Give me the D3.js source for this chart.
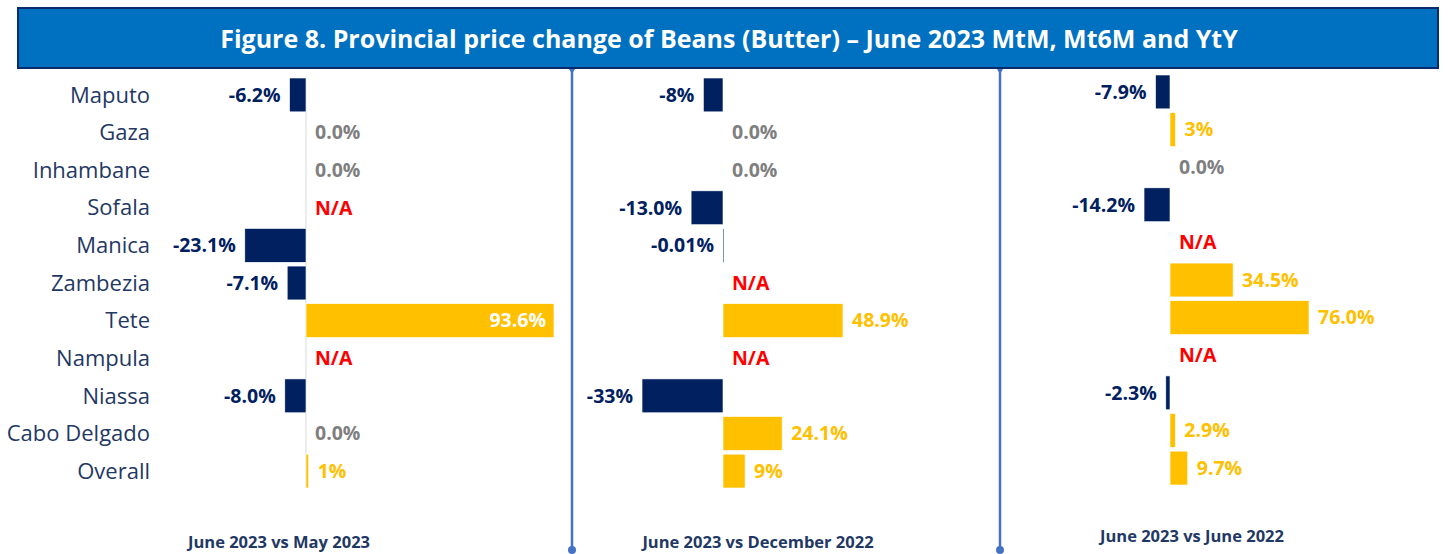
<!DOCTYPE html>
<html>
<head>
<meta charset="utf-8">
<script src="https://cdn.jsdelivr.net/npm/d3@7"></script>
<style>
  body { margin: 0; background: #fff; }
  svg { display: block; font-family: "Open Sans", sans-serif; }
</style>
</head>
<body>
<svg id="chart" width="1448" height="554"></svg>
<script>
// data
const provinces = ["Maputo", "Gaza", "Inhambane", "Sofala", "Manica", "Zambezia", "Tete", "Nampula", "Niassa", "Cabo Delgado", "Overall"];

const mtmValues = [-6.2, 0, 0, null, -23.1, -7.1, 93.6, null, -8.0, 0, 1];
const mtmLabels = ["-6.2%", "0.0%", "0.0%", "N/A", "-23.1%", "-7.1%", "93.6%", "N/A", "-8.0%", "0.0%", "1%"];

const mt6mValues = [-8, 0, 0, -13.0, -0.01, null, 48.9, null, -33, 24.1, 9];
const mt6mLabels = ["-8%", "0.0%", "0.0%", "-13.0%", "-0.01%", "N/A", "48.9%", "N/A", "-33%", "24.1%", "9%"];

const ytyValues = [-7.9, 3, 0, -14.2, null, 34.5, 76.0, null, -2.3, 2.9, 9.7];
const ytyLabels = ["-7.9%", "3%", "0.0%", "-14.2%", "N/A", "34.5%", "76.0%", "N/A", "-2.3%", "2.9%", "9.7%"];

const panelTitles = ["June 2023 vs May 2023", "June 2023 vs December 2022", "June 2023 vs June 2022"];

const titleText = "Figure 8. Provincial price change of Beans (Butter) \u2013 June 2023 MtM, Mt6M and YtY";

const NAVY = "#002060", GOLD = "#FFC000", GREY = "#7F7F7F", RED = "#FF0000";

const svg = d3.select("#chart");

// title box
svg.append("rect")
  .attr("x", 18).attr("y", 8)
  .attr("width", 1420).attr("height", 60)
  .attr("fill", "#0070C0")
  .attr("stroke", "#0B2A6B")
  .attr("stroke-width", 2);

svg.append("text")
  .attr("x", 729).attr("y", 39)
  .attr("dy", "0.35em")
  .attr("text-anchor", "middle")
  .attr("fill", "#fff")
  .attr("font-weight", 700)
  .attr("font-size", "25px")
  .text(titleText);

// separators
[572, 1000].forEach(sx => {
  svg.append("line")
    .attr("x1", sx).attr("x2", sx)
    .attr("y1", 69).attr("y2", 550)
    .attr("stroke", "#4472C4")
    .attr("stroke-width", 2.5);
  svg.append("path")
    .attr("d", `M${sx - 3},69 L${sx + 3},69 L${sx},74 Z`)
    .attr("fill", "#4472C4");
  svg.append("circle")
    .attr("cx", sx).attr("cy", 550).attr("r", 4)
    .attr("fill", "#4472C4");
});

// category labels
const yCat = d3.scaleBand().domain(provinces).range([78, 488]).paddingInner(0.1);

svg.append("g").selectAll("text")
  .data(provinces)
  .enter().append("text")
  .attr("x", 150)
  .attr("y", d => yCat(d) + yCat.bandwidth() / 2)
  .attr("dy", "0.35em")
  .attr("text-anchor", "end")
  .attr("font-size", "22px")
  .attr("fill", "#1F3864")
  .text(d => d);

// panels
const panels = [
  { values: mtmValues, labels: mtmLabels, domain: [0, 93.6], range: [306, 554], yRange: [78, 488], axis: true, title: panelTitles[0], tx: 279, ty: 548, inside: 93.6 },
  { values: mt6mValues, labels: mt6mLabels, domain: [0, 48.9], range: [723, 843], yRange: [78, 488], axis: false, title: panelTitles[1], tx: 758, ty: 548 },
  { values: ytyValues, labels: ytyLabels, domain: [0, 76], range: [1170, 1309], yRange: [75, 485], axis: false, title: panelTitles[2], tx: 1192, ty: 542 }
];

panels.forEach(p => {
  const x = d3.scaleLinear().domain(p.domain).range(p.range);
  const y = d3.scaleBand().domain(provinces).range(p.yRange).paddingInner(0.1);
  const rows = provinces.map((name, i) => ({ name, value: p.values[i], label: p.labels[i] }));
  const g = svg.append("g");

  if (p.axis) {
    g.append("line")
      .attr("x1", x(0)).attr("x2", x(0))
      .attr("y1", p.yRange[0]).attr("y2", p.yRange[1])
      .attr("stroke", "#D9D9D9")
      .attr("stroke-width", 1);
  }

  // bars
  g.selectAll("rect")
    .data(rows.filter(d => d.value !== null && d.value !== 0))
    .enter().append("rect")
    .attr("x", d => Math.min(x(0), x(d.value)))
    .attr("y", d => y(d.name))
    .attr("width", d => Math.max(1, Math.abs(x(d.value) - x(0))))
    .attr("height", y.bandwidth())
    .attr("fill", d => d.value < 0 ? NAVY : GOLD)
    .attr("stroke", "#fff")
    .attr("stroke-width", 0.6);

  // value labels
  g.selectAll("text.val")
    .data(rows)
    .enter().append("text")
    .attr("class", "val")
    .attr("y", d => y(d.name) + y.bandwidth() / 2)
    .attr("dy", "0.35em")
    .attr("font-size", "19.5px")
    .attr("font-weight", 700)
    .each(function(d) {
      const t = d3.select(this);
      if (d.value === null) {
        t.attr("x", x(0) + 9).attr("text-anchor", "start").attr("fill", RED);
      } else if (d.value === 0) {
        t.attr("x", x(0) + 9).attr("text-anchor", "start").attr("fill", GREY);
      } else if (d.value < 0) {
        t.attr("x", x(d.value) - 9).attr("text-anchor", "end").attr("fill", NAVY);
      } else if (p.inside && d.value === p.inside) {
        t.attr("x", x(d.value) - 8).attr("text-anchor", "end").attr("fill", "#fff");
      } else {
        t.attr("x", x(d.value) + 9).attr("text-anchor", "start").attr("fill", GOLD);
      }
    })
    .text(d => d.label);

  // panel subtitle
  svg.append("text")
    .attr("x", p.tx).attr("y", p.ty)
    .attr("text-anchor", "middle")
    .attr("font-size", "16.5px")
    .attr("font-weight", 700)
    .attr("fill", "#1F3864")
    .text(p.title);
});
</script>
</body>
</html>
